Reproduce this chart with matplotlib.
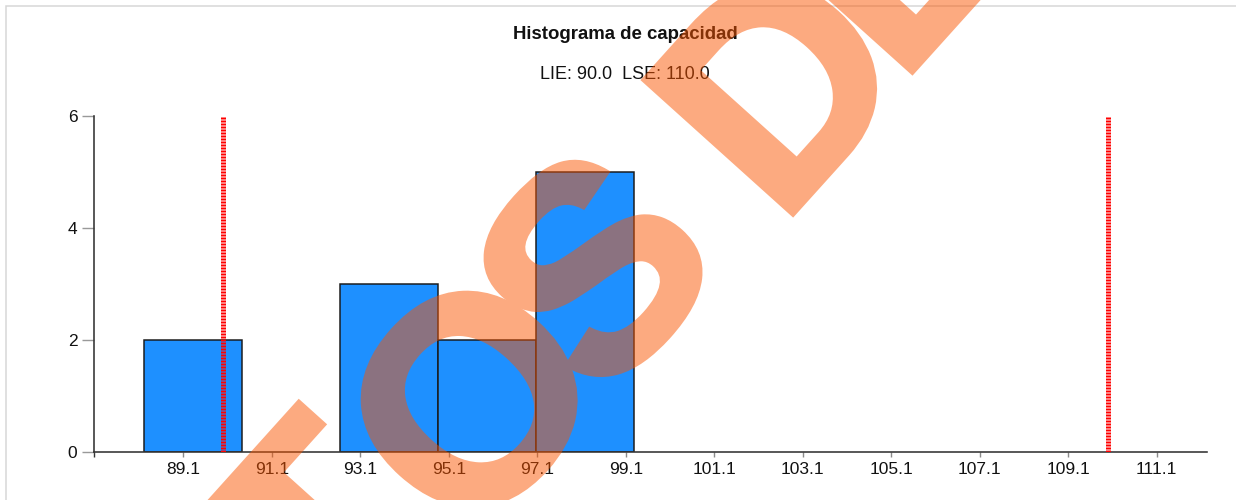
import matplotlib
matplotlib.use("Agg")
import matplotlib.pyplot as plt
from matplotlib.figure import Figure
from matplotlib.backends.backend_agg import FigureCanvasAgg
from matplotlib.patches import Rectangle
import matplotlib.patheffects as pe
import numpy as np

# ---- data ----
bin_edges = [88.22, 90.43, 92.65, 94.86, 97.08, 99.29]
counts = [2, 0, 3, 2, 5]
tick_values = [89.1, 91.1, 93.1, 95.1, 97.1, 99.1, 101.1, 103.1, 105.1, 107.1, 109.1, 111.1]
tick_labels = ["89.1", "91.1", "93.1", "95.1", "97.1", "99.1", "101.1", "103.1", "105.1", "107.1", "109.1", "111.1"]
y_ticks = [0, 2, 4, 6]
lie = 90.0
lse = 110.0
title = "Histograma de capacidad"
subtitle = "LIE: 90.0  LSE: 110.0"
watermark_letters = ["T", "O", "S", "D", "E"]

W, H = 1236, 500
DPI = 100
plt.rcParams['font.family'] = ['Liberation Sans', 'DejaVu Sans']

fig = plt.figure(figsize=(W / DPI, H / DPI), dpi=DPI)
fig.patch.set_facecolor('white')

def px(v):
    return v * 72.0 / DPI

ax_left, ax_right = 94.3, 1206.7
ax_top, ax_bottom = 115.7, 452.3
ax = fig.add_axes([ax_left / W, (H - ax_bottom) / H, (ax_right - ax_left) / W, (ax_bottom - ax_top) / H])
ax.set_facecolor('none')

xmin, xmax = 87.09, 112.23
ax.set_xlim(xmin, xmax)
ax.set_ylim(0, 6)

lefts = bin_edges[:-1]
widths = np.diff(bin_edges)
for l, w, c in zip(lefts, widths, counts):
    if c > 0:
        ax.bar(l, c, width=w, align='edge', color='#1E90FF', edgecolor='#1a1a1a',
               linewidth=px(1.5), zorder=2)

ax.vlines([lie, lse], 0, 6, colors='#ff0000', linewidth=px(5),
          linestyles=[(0, (0.4, 0.2))], zorder=3)

for s in ['top', 'right']:
    ax.spines[s].set_visible(False)
for s in ['left', 'bottom']:
    ax.spines[s].set_color('#333333')
    ax.spines[s].set_linewidth(px(1.6))

ax.set_xticks(tick_values)
ax.set_xticklabels(tick_labels)
ax.set_xticks([xmin], minor=True)
ax.set_yticks(y_ticks)
ax.set_yticklabels([str(v) for v in y_ticks])
ax.tick_params(axis='x', which='both', length=px(5), width=px(1.4), color='#8a8a8a',
               labelsize=12.5, pad=px(5), labelcolor='#111111')
ax.tick_params(axis='x', which='minor', color='#333333')
ax.tick_params(axis='y', length=px(12), width=px(1.4), color='#999999',
               labelsize=12.5, pad=px(5), labelcolor='#111111')

# titles
fig.text(625 / W, (H - 39) / H, title, ha='center', va='baseline',
         fontsize=13.4, fontweight='bold', color='#111111')
fig.text(625 / W, (H - 79.3) / H, subtitle, ha='center', va='baseline',
         fontsize=13, color='#111111')

# border
fig.patches.append(Rectangle((6 / W, -0.2), 1.5, (H - 6) / H + 0.2, transform=fig.transFigure,
                             fill=False, edgecolor='#d6d6d6', linewidth=px(1.5)))

# watermark (decorative): heavy letters rendered off-screen, then laid over at 50 % opacity
wfig = Figure(figsize=(W / DPI, H / DPI), dpi=DPI)
FigureCanvasAgg(wfig)
wfig.patch.set_alpha(0)
wm_anchor_px = [(390, 600), (544, 466), (666, 334), (850, 150), (964, 14)]
for ch, (xp, yp) in zip(watermark_letters, wm_anchor_px):
    wfig.text(xp / W, (H - yp) / H, ch, rotation=48, rotation_mode='anchor',
              ha='center', va='baseline', fontsize=px(290), fontweight='bold',
              color='black',
              path_effects=[pe.withStroke(linewidth=px(6), foreground='black',
                                          joinstyle='miter')])
wfig.canvas.draw()
cov = np.asarray(wfig.canvas.buffer_rgba())[..., 3].astype(float) / 255.0
wm = np.zeros((H, W, 4))
wm[..., 0] = 250 / 255
wm[..., 1] = 85 / 255
wm[..., 2] = 0.0
wm[..., 3] = cov * 0.5
fig.figimage(wm, xo=0, yo=0, origin='upper', zorder=100)

fig.savefig('out.png', dpi=DPI)
